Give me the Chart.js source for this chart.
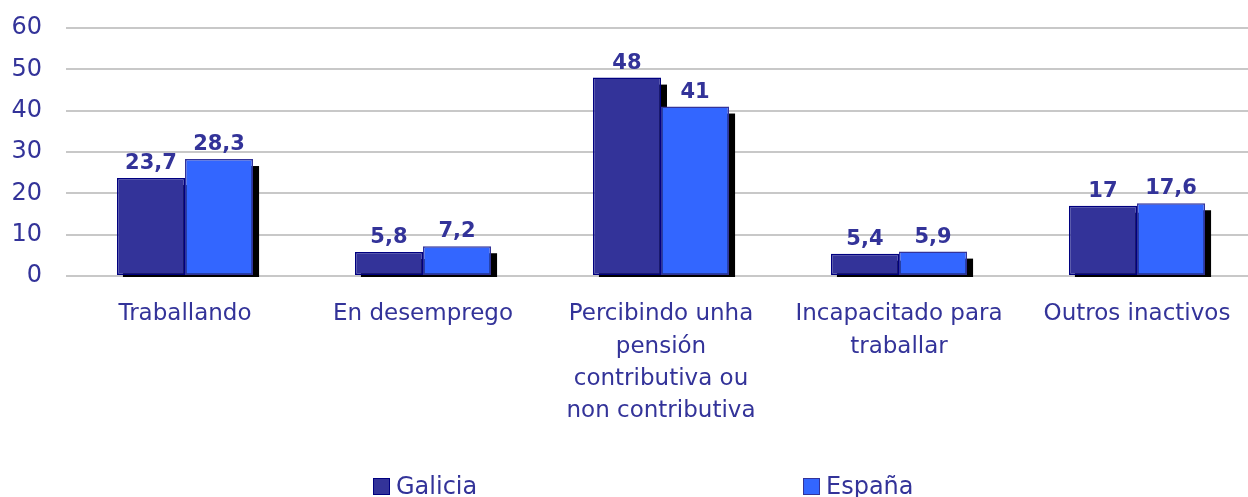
<!DOCTYPE html>
<html>
<head>
<meta charset="utf-8">
<script src="https://cdn.jsdelivr.net/npm/chart.js@4/dist/chart.umd.min.js"></script>
<style>
  body { margin: 0; background: #fff; overflow: hidden; }
  #wrap { position: relative; width: 1248px; height: 497px; overflow: hidden; }
  #myBarChart { position: absolute; left: 0; top: 0; }
  .leg { position: absolute; top: 474px; height: 24px; display: flex; align-items: center;
         font: 24px 'DejaVu Sans', sans-serif; color: #333399; }
  .sw { width: 15px; height: 15px; margin-right: 6px; border: 1.5px solid; }
</style>
</head>
<body>
<div id="wrap">
  <canvas id="myBarChart" width="1256" height="497"></canvas>
</div>
<script>
const categories = [
    'Traballando',
    'En desemprego',
    ['Percibindo unha', 'pensión', 'contributiva ou', 'non contributiva'],
    ['Incapacitado para', 'traballar'],
    'Outros inactivos'
];
const galicia = [23.7, 5.8, 48, 5.4, 17];
const espana = [28.3, 7.2, 41, 5.9, 17.6];
const yMax = 60;
const yStep = 10;

const textColor = '#333399';
Chart.defaults.font.family = "'DejaVu Sans', sans-serif";

// black drop shadow behind each bar
const barShadow = {
    id: 'barShadow',
    beforeDatasetsDraw(chart) {
        const ctx = chart.ctx;
        ctx.save();
        ctx.fillStyle = '#000';
        chart.data.datasets.forEach((ds, i) => {
            chart.getDatasetMeta(i).data.forEach(bar => {
                const p = bar.getProps(['x', 'y', 'width', 'base'], true);
                ctx.fillRect(p.x - p.width / 2 + 6, p.y + 7, p.width, p.base + 2 - (p.y + 7));
            });
        });
        ctx.restore();
    }
};

// value labels above the bars
const valueLabels = {
    id: 'valueLabels',
    afterDatasetsDraw(chart) {
        const ctx = chart.ctx;
        ctx.save();
        ctx.fillStyle = textColor;
        ctx.font = "bold 21px 'DejaVu Sans', sans-serif";
        ctx.textAlign = 'center';
        ctx.textBaseline = 'alphabetic';
        chart.data.datasets.forEach((ds, i) => {
            chart.getDatasetMeta(i).data.forEach((bar, j) => {
                const txt = String(ds.data[j]).replace('.', ',');
                ctx.fillText(txt, bar.x, bar.y - 9);
            });
        });
        ctx.restore();
    }
};

const data = {
    labels: categories,
    datasets: [{
        label: 'Galicia',
        data: galicia,
        backgroundColor: '#333399',
        borderColor: '#000080',
        borderWidth: 1.5,
        borderSkipped: false
    }, {
        label: 'España',
        data: espana,
        backgroundColor: '#3366FF',
        borderColor: '#333399',
        borderWidth: 1.5,
        borderSkipped: false
    }]
};

const config = {
    type: 'bar',
    data: data,
    options: {
        responsive: false,
        animation: false,
        categoryPercentage: 0.572,
        barPercentage: 1,
        layout: { padding: { top: 28, left: 0, right: 0, bottom: 0 } },
        plugins: {
            legend: { display: false },
            tooltip: { enabled: false }
        },
        scales: {
            x: {
                grid: { display: false },
                border: { display: false },
                ticks: {
                    color: textColor,
                    font: { size: 23, lineHeight: 1.41 },
                    padding: 14,
                    maxRotation: 0,
                    autoSkip: false
                },
                afterFit(scale) { scale.height = 221; }
            },
            y: {
                min: 0,
                max: yMax,
                grid: { color: '#c8c8c8', lineWidth: 2, drawTicks: false },
                border: { display: false },
                ticks: {
                    stepSize: yStep,
                    color: textColor,
                    font: { size: 24, lineHeight: 0.3 },
                    padding: 24
                },
                afterFit(scale) { scale.width = 66; }
            }
        }
    },
    plugins: [barShadow, valueLabels]
};

const myBarChart = new Chart(document.getElementById('myBarChart'), config);

// legend below the chart
const legendPos = [373, 803];
data.datasets.forEach((ds, i) => {
    const item = document.createElement('div');
    item.className = 'leg';
    item.style.left = legendPos[i] + 'px';
    const sw = document.createElement('span');
    sw.className = 'sw';
    sw.style.background = ds.backgroundColor;
    sw.style.borderColor = ds.borderColor;
    item.appendChild(sw);
    item.appendChild(document.createTextNode(ds.label));
    document.getElementById('wrap').appendChild(item);
});
</script>
</body>
</html>
